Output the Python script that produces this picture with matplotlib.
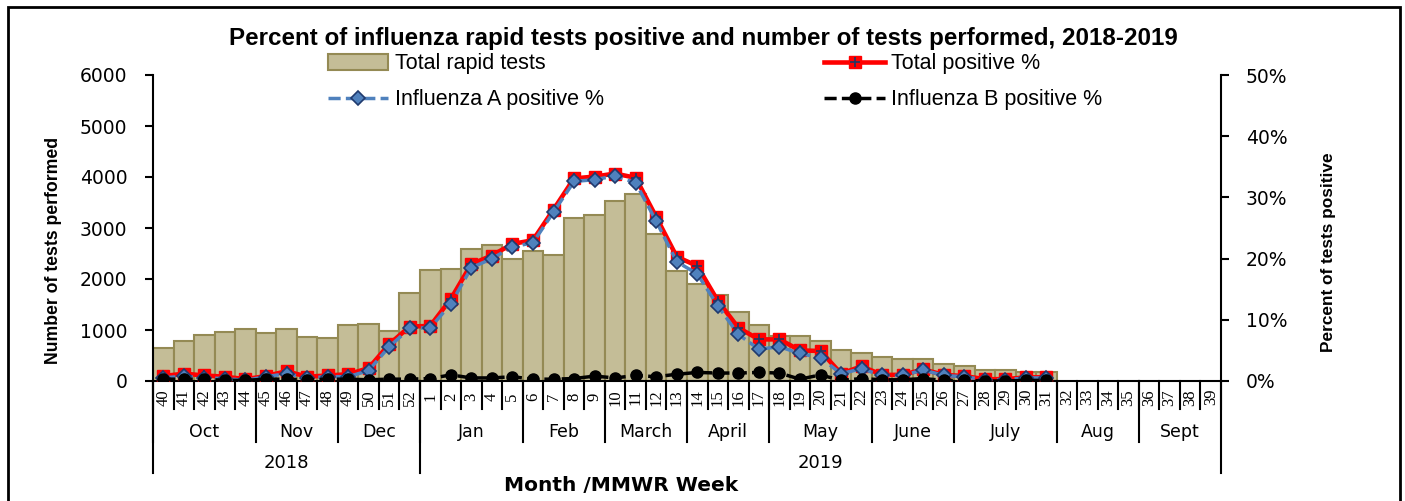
import numpy as np
import matplotlib
matplotlib.use("Agg")
import matplotlib.pyplot as plt
from matplotlib import font_manager
from matplotlib.patches import Rectangle, Patch
from matplotlib.lines import Line2D
from matplotlib.ticker import FuncFormatter

# MMWR weeks, 2018 week 40 through 2019 week 39
weeks = list(range(40, 53)) + list(range(1, 40))
months = ["Oct", "Nov", "Dec", "Jan", "Feb", "March", "April", "May", "June", "July", "Aug", "Sept"]
month_weeks = [5, 4, 4, 5, 4, 4, 4, 5, 4, 5, 4, 4]
years = ["2018", "2019"]
year_weeks = [13, 39]

# Data reported through week 31
total_tests = [650, 780, 900, 960, 1010, 950, 1010, 870, 840, 1090, 1120, 990, 1720,
               2180, 2190, 2590, 2670, 2400, 2550, 2480, 3200, 3250, 3530, 3660, 2890,
               2160, 1900, 1690, 1350, 1100, 880, 880, 780, 600, 550, 470, 425, 425,
               340, 295, 220, 220, 180, 180]
total_pos = [0.8, 1.2, 0.9, 0.7, 0.3, 0.8, 1.6, 0.7, 0.9, 1.1, 2.1, 6.0, 8.9,
             9.0, 13.4, 19.1, 20.5, 22.4, 23.0, 28.0, 33.1, 33.4, 33.9, 33.2, 26.8,
             20.3, 18.8, 13.1, 8.7, 6.8, 6.8, 5.0, 4.9, 1.2, 2.4, 1.0, 1.0, 1.9,
             1.0, 0.8, 0.3, 0.3, 0.6, 0.6]
flu_a_pos = [0.5, 0.8, 0.5, 0.4, 0.1, 0.7, 1.2, 0.5, 0.7, 0.7, 1.7, 5.6, 8.6,
             8.7, 12.6, 18.5, 20.0, 21.9, 22.6, 27.6, 32.6, 32.9, 33.5, 32.4, 26.1,
             19.5, 17.5, 12.3, 7.6, 5.2, 5.6, 4.5, 3.8, 1.2, 2.0, 0.9, 0.9, 1.8,
             0.9, 0.7, 0.2, 0.2, 0.5, 0.5]
flu_b_pos = [0.3, 0.3, 0.3, 0.1, 0.1, 0.3, 0.3, 0.2, 0.3, 0.3, 0.2, 0.3, 0.3,
             0.4, 1.0, 0.5, 0.5, 0.7, 0.3, 0.3, 0.4, 0.8, 0.5, 0.9, 0.7,
             1.1, 1.4, 1.3, 1.3, 1.4, 1.3, 0.3, 1.0, 0.1, 0.4, 0.2, 0.2, 0.4,
             0.1, 0.1, 0.0, 0.0, 0.1, 0.1]


def pick_font(name, fallback):
    try:
        font_manager.findfont(name, fallback_to_default=False)
        return name
    except Exception:
        return fallback


narrow = pick_font("Liberation Sans Narrow", "Liberation Sans")

W, H = 1405, 501
fig = plt.figure(figsize=(W / 100, H / 100), dpi=100)
ax = fig.add_axes([153 / W, 1 - 381 / H, (1221 - 153) / W, (381 - 75) / H])

x = np.arange(len(weeks))
n = len(total_tests)

# bars on the left axis
ax.bar(x[:n], total_tests, width=1.0, color="#C4BD97", edgecolor="#948A54", linewidth=1.5)
ax.set_xlim(-0.5, len(weeks) - 0.5)
ax.set_ylim(0, 6000)
ax.set_yticks(range(0, 6001, 1000))
for s in ["top", "right"]:
    ax.spines[s].set_visible(False)
for s in ["left", "bottom"]:
    ax.spines[s].set_linewidth(1.5)
ax.tick_params(axis="y", direction="out", length=6, width=1.5, pad=12.5, labelsize=13.5)
ax.tick_params(axis="x", bottom=False, labelbottom=False)

# percent lines on the right axis
ax2 = ax.twinx()
ax2.set_ylim(0, 50)
ax2.set_yticks(range(0, 51, 10))
ax2.yaxis.set_major_formatter(FuncFormatter(lambda v, p: f"{int(v)}%"))
for s in ["top", "left", "bottom"]:
    ax2.spines[s].set_visible(False)
ax2.spines["right"].set_linewidth(1.5)
ax2.tick_params(axis="y", direction="out", length=6, width=1.5, pad=12, labelsize=13.5)

ax2.plot(x[:n], total_pos, color="red", lw=3.3, marker="s", ms=8.5, mfc="red", mec="red", zorder=3)
ax2.plot(x[:n], total_pos, ls="none", marker="+", ms=7, mec="#1F3864", mew=1.2, zorder=3.1)
ax2.plot(x[:n], flu_a_pos, color="#4F81BD", lw=2.5, ls=(0, (3.5, 1.5)), marker="D", ms=7,
         mfc="#4F81BD", mec="#1F3A6E", mew=1.2, zorder=4)
ax2.plot(x[:n], flu_b_pos, color="black", lw=2.5, ls=(0, (3.5, 1.5)), marker="o", ms=8,
         mfc="black", mec="black", zorder=5)

# hierarchical x axis: weeks / months / years
trans = ax.get_xaxis_transform()
week_len, month_len, year_len = -0.0915, -0.199, -0.30
for i, wk in enumerate(weeks):
    ax.text(i, -0.053, str(wk), rotation=90, ha="center", va="center", transform=trans,
            fontsize=12, family="Liberation Serif")
for i in range(len(weeks) + 1):
    ax.plot([i - 0.5, i - 0.5], [0, week_len], transform=trans, color="black", lw=1.5, clip_on=False)

start = 0
for name, cnt in zip(months, month_weeks):
    ax.plot([start - 0.5, start - 0.5], [0, month_len], transform=trans, color="black", lw=1.5, clip_on=False)
    ax.text(start + (cnt - 1) / 2, -0.167, name, ha="center", va="center", transform=trans, fontsize=12.5)
    start += cnt

start = 0
for name, cnt in zip(years, year_weeks):
    ax.plot([start - 0.5, start - 0.5], [0, year_len], transform=trans, color="black", lw=1.5, clip_on=False)
    ax.text(start + (cnt - 1) / 2, -0.268, name, ha="center", va="center", transform=trans, fontsize=13)
    start += cnt
ax.plot([start - 0.5, start - 0.5], [0, year_len], transform=trans, color="black", lw=1.5, clip_on=False)

ax.text(0.438, -0.34, "Month /MMWR Week", ha="center", va="center", transform=ax.transAxes,
        fontsize=14.5, fontweight="bold")

# axis titles
fig.text(54 / W, 1 - 250 / H, "Number of tests performed", rotation=90, ha="center", va="center",
         fontsize=12.7, fontweight="bold", family=narrow)
fig.text(1328 / W, 1 - 252 / H, "Percent of tests positive", rotation=90, ha="center", va="center",
         fontsize=12.4, fontweight="bold", family=narrow)
fig.text(703 / W, 1 - 38 / H,
         "Percent of influenza rapid tests positive and number of tests performed, 2018-2019",
         ha="center", va="center", fontsize=17.4, fontweight="bold", family=narrow)

# legend
h_bar = Patch(facecolor="#C4BD97", edgecolor="#948A54", linewidth=1.5)
h_tot = (Line2D([], [], color="red", lw=3.3, marker="s", ms=8.5, mfc="red", mec="red"),
         Line2D([], [], ls="none", marker="+", ms=7, mec="#1F3864", mew=1.2))
h_a = Line2D([], [], color="#4F81BD", lw=2.5, ls=(0, (3.5, 1.5)), marker="D", ms=7,
             mfc="#4F81BD", mec="#1F3A6E", mew=1.2)
h_b = Line2D([], [], color="black", lw=2.5, ls=(0, (3.5, 1.5)), marker="o", ms=8, mfc="black", mec="black")
fig.legend([h_bar, h_a, h_tot, h_b],
           ["Total rapid tests", "Influenza A positive %", "Total positive %", "Influenza B positive %"],
           ncol=2, loc="upper left", bbox_to_anchor=(328 / W, 1 - 53.5 / H), frameon=False,
           borderpad=0, borderaxespad=0, handlelength=2.8, handletextpad=0.3,
           columnspacing=10.25, labelspacing=0.68, prop={"family": narrow, "size": 15.5})

# outer frame
fig.patches.append(Rectangle((8 / W, -0.05), (1400 - 8) / W, 1.05 - 7 / H, transform=fig.transFigure,
                             fill=False, lw=2, ec="black"))

fig.savefig("out.png", dpi=100)
